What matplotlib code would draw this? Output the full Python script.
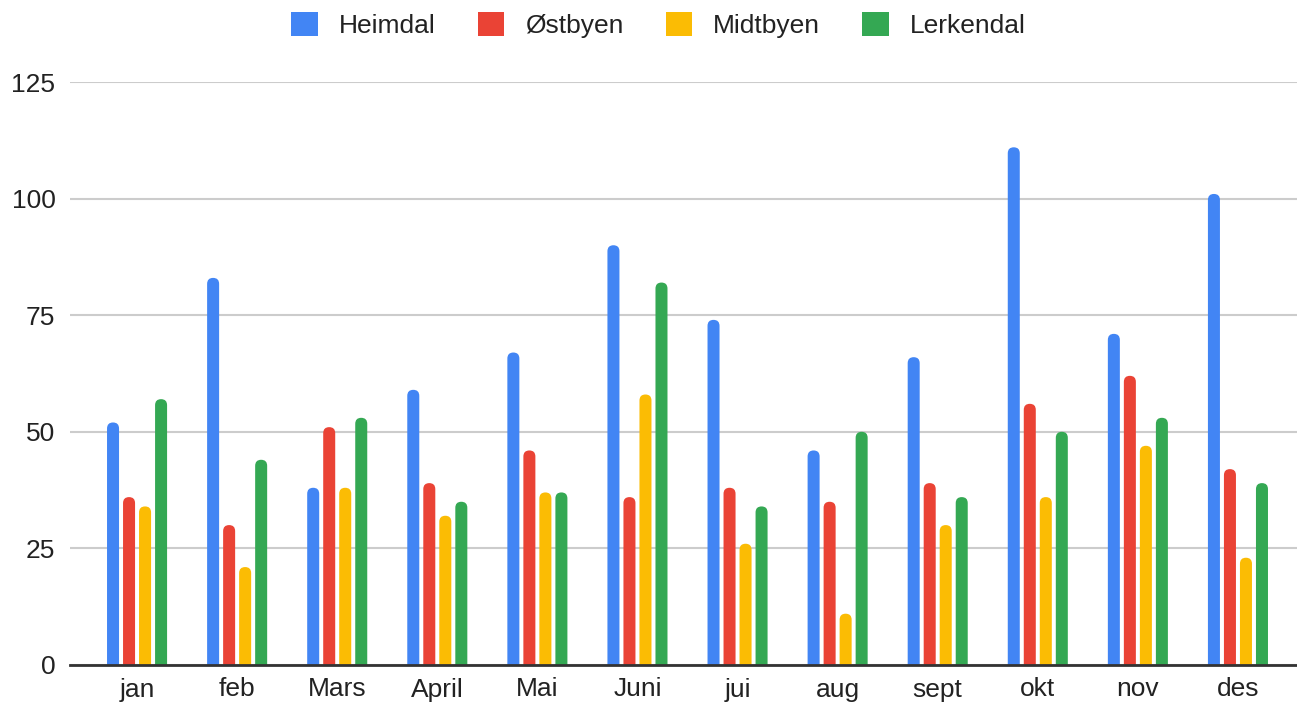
import matplotlib

matplotlib.use("Agg")
import matplotlib.pyplot as plt
import numpy as np
from matplotlib.patches import FancyBboxPatch, Patch

months = ["jan", "feb", "Mars", "April", "Mai", "Juni", "jui", "aug", "sept", "okt", "nov", "des"]
heimdal = [52, 83, 38, 59, 67, 90, 74, 46, 66, 111, 71, 101]
ostbyen = [36, 30, 51, 39, 46, 36, 38, 35, 39, 56, 62, 42]
midtbyen = [34, 21, 38, 32, 37, 58, 26, 11, 30, 36, 47, 23]
lerkendal = [57, 44, 53, 35, 37, 82, 34, 50, 36, 50, 53, 39]

series = [
    ("Heimdal", heimdal, "#4285F4"),
    ("Østbyen", ostbyen, "#EA4335"),
    ("Midtbyen", midtbyen, "#FBBC04"),
    ("Lerkendal", lerkendal, "#34A853"),
]

plt.rcParams["font.family"] = ["Liberation Sans", "DejaVu Sans"]
text_color = "#222222"

W, H = 1297, 707
fig = plt.figure(figsize=(W / 100, H / 100), dpi=100)
ax_px = (70, 42, 1227, 583)  # left, bottom, width, height in pixels
ax = fig.add_axes([ax_px[0] / W, ax_px[1] / H, ax_px[2] / W, ax_px[3] / H])

xlim = (-0.67, 11.59)
ylim = (0, 125)
ax.set_xlim(*xlim)
ax.set_ylim(*ylim)

# data-units aspect so the rounded bar tops come out circular
aspect = ((ylim[1] - ylim[0]) / ax_px[3]) / ((xlim[1] - xlim[0]) / ax_px[2])

x = np.arange(len(months))
step = 0.16
width = 0.12
for i, (name, vals, color) in enumerate(series):
    bars = ax.bar(x + (i - 1.5) * step, vals, width=width, color=color, zorder=3)
    for b in bars:
        b.set_visible(False)
        # start below zero so only the top corners show as rounded
        fb = FancyBboxPatch((b.get_x(), -3), b.get_width(), b.get_height() + 3,
                            boxstyle=f"round,pad=0,rounding_size={width / 2}",
                            mutation_aspect=aspect, facecolor=color,
                            edgecolor="none", zorder=3)
        ax.add_patch(fb)

ax.set_yticks([0, 25, 50, 75, 100, 125])
ax.set_xticks(x)
ax.set_xticklabels(months)
ax.tick_params(axis="both", length=0, labelsize=19, colors=text_color)
ax.tick_params(axis="x", pad=9)
ax.tick_params(axis="y", pad=10.5)

ax.grid(axis="y", color="#cccccc", linewidth=1.5, zorder=0)
for side in ["top", "right", "left"]:
    ax.spines[side].set_visible(False)
ax.spines["bottom"].set_color("#333333")
ax.spines["bottom"].set_linewidth(2)
ax.spines["bottom"].set_zorder(4)

handles = [Patch(facecolor=c, label=n) for n, _, c in series]
fig.legend(handles=handles, loc="center", bbox_to_anchor=(0.5 + 10 / W, 1 - 25 / H), ncol=4,
           frameon=False, fontsize=19, handlelength=1.0, handleheight=1.05,
           handletextpad=0.8, columnspacing=1.6, labelcolor=text_color)

fig.savefig("out.png", dpi=100)
